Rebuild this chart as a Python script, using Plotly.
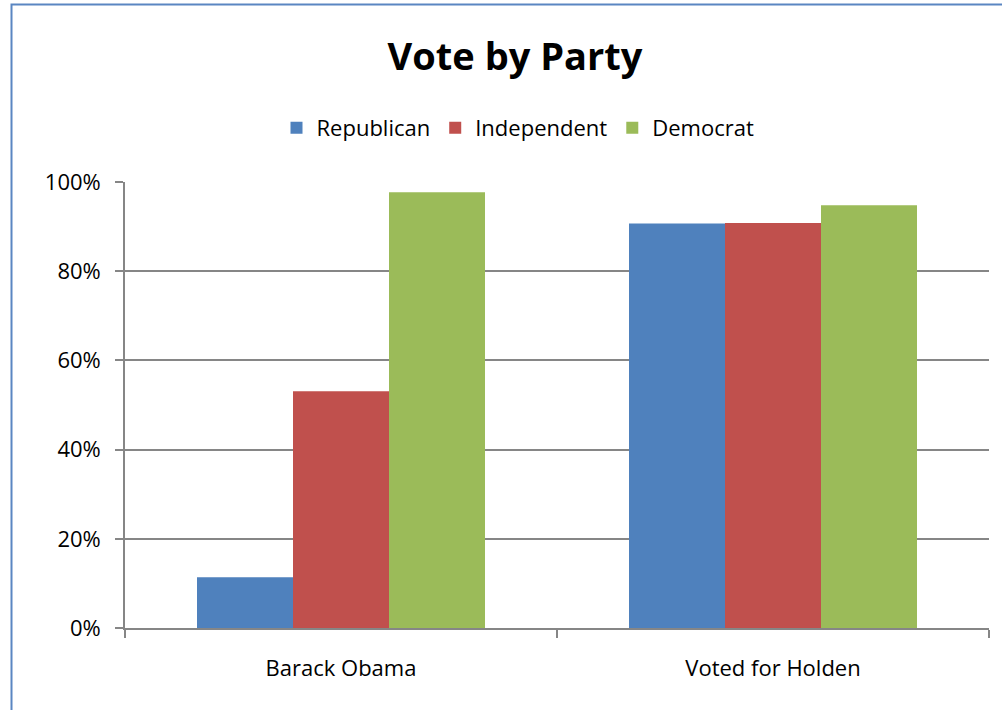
import plotly.graph_objects as go

categories = ["Barack Obama", "Voted for Holden"]
republican = [0.114, 0.907]
independent = [0.531, 0.908]
democrat = [0.977, 0.948]
series_names = ["Republican", "Independent", "Democrat"]
colors = ["#4F81BD", "#C0504D", "#9BBB59"]
y_ticks = [0, 0.2, 0.4, 0.6, 0.8, 1.0]

W, H = 1002, 710
L, R, T, B = 125, 13, 182, 82
pw, ph = W - L - R, H - T - B

def px(x):
    return (x - L) / pw

def py(y):
    return (H - B - y) / ph

fig = go.Figure()
for name, vals, col in zip(series_names, [republican, independent, democrat], colors):
    fig.add_trace(go.Bar(x=categories, y=vals, name=name,
                         marker=dict(color=col, line=dict(width=0))))

font_family = "'Open Sans', sans-serif"
fig.update_layout(
    width=W, height=H,
    margin=dict(l=L, r=R, t=T, b=B),
    paper_bgcolor="white", plot_bgcolor="white",
    barmode="group", bargap=1/3, bargroupgap=0,
    font=dict(family=font_family, size=22, color="#000000"),
    title=dict(text="<b>Vote by Party</b>", x=px(515), xref="paper", xanchor="center",
               y=1 - 57 / H, yref="container", yanchor="middle",
               font=dict(size=38, family=font_family, color="#000000")),
    legend=dict(orientation="h", x=px(518), xanchor="center", y=py(128), yanchor="middle",
                font=dict(size=22), itemwidth=30, bgcolor="rgba(0,0,0,0)"),
    showlegend=True,
)
fig.update_yaxes(range=[0, 1], tickvals=y_ticks, tickformat=".0%",
                 showgrid=True, gridcolor="#868686", gridwidth=1.6,
                 showline=True, linecolor="#868686", linewidth=1.6,
                 ticks="outside", ticklen=8, tickcolor="#868686", tickwidth=1.6,
                 zeroline=False, ticklabelstandoff=10, tickfont=dict(size=22))
fig.update_xaxes(showline=True, linecolor="#868686", linewidth=1.6,
                 ticks="outside", ticklen=8, tickcolor="#868686", tickwidth=1.6,
                 tickson="boundaries", showgrid=False, ticklabelstandoff=20,
                 tickfont=dict(size=22))

fig.add_shape(type="rect", xref="paper", yref="paper",
              x0=px(11.5), x1=px(1010), y0=py(4.5), y1=py(720),
              line=dict(color="#5A86C2", width=2), fillcolor="rgba(0,0,0,0)",
              layer="above")

fig.write_html("out.html", config={"displayModeBar": False},
               post_script="document.body.style.margin='0';document.body.style.overflow='hidden';")
